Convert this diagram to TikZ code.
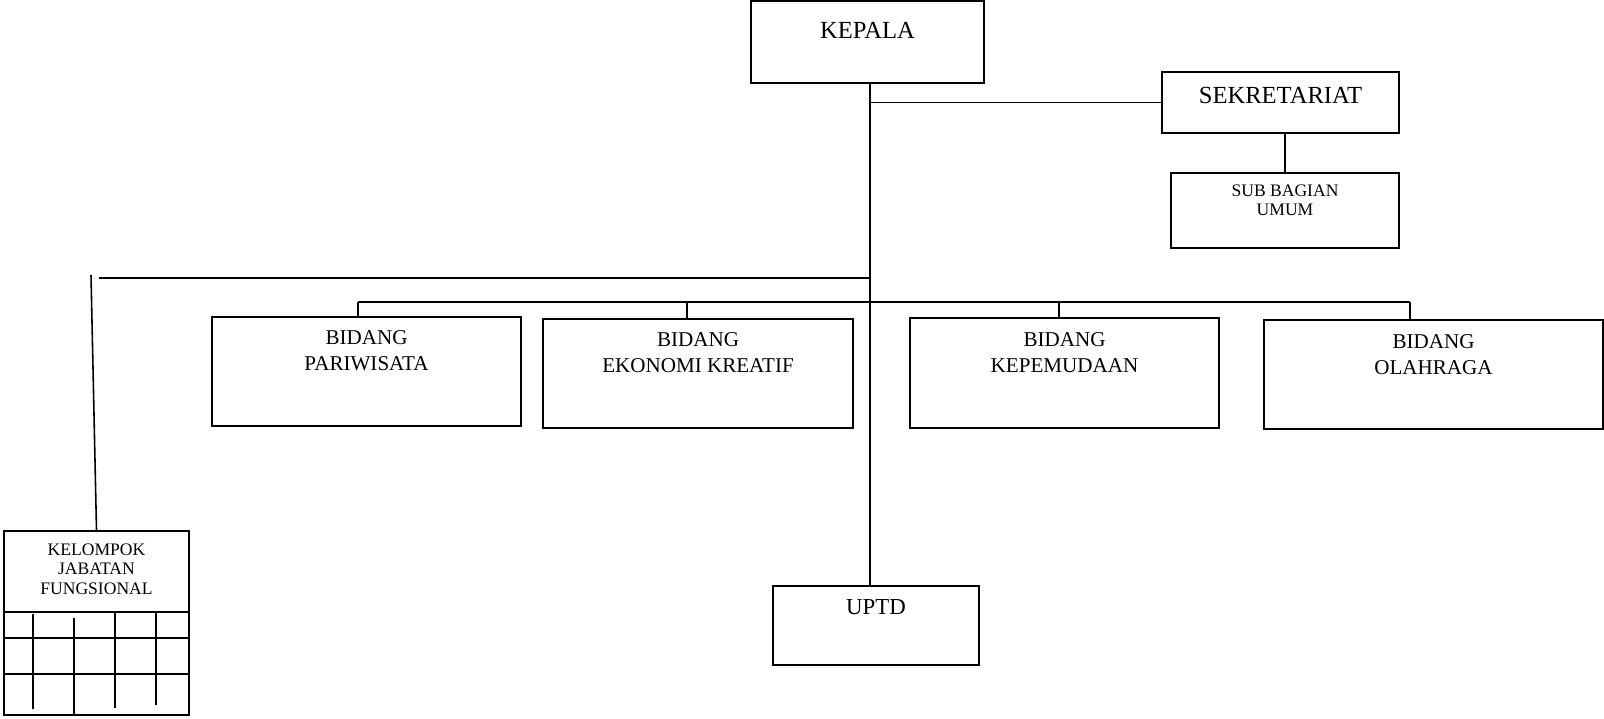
\documentclass[tikz,border=0pt]{standalone}
\usepackage{fontspec}
\setmainfont{Liberation Serif}
\usetikzlibrary{fit}

\begin{document}
\begin{tikzpicture}[x=0.02cm, y=-0.02cm, line width=0.9pt,
	box/.style={draw, inner sep=0pt},
	txt/.style={anchor=north, inner sep=0pt, align=center},
	big/.style={font=\fontsize{14}{16}\selectfont},
	mid/.style={font=\fontsize{12}{14.5}\selectfont},
	small/.style={font=\fontsize{10}{11}\selectfont}]
\useasboundingbox (0,0) rectangle (1604,719);

\node[box, fit={(751,1) (984,83)}, label={[txt, big, yshift=-0.42cm]north:KEPALA}] (kepala) {};

\node[box, fit={(1162,72) (1399,133)}, label={[txt, big, yshift=-0.30cm]north:SEKRETARIAT}] (sekre) {};
\node[box, fit={(1171,173) (1399,248)}, label={[txt, small, yshift=-0.24cm]north:SUB BAGIAN\\UMUM}] (subbag) {};

\node[box, fit={(212,317) (521,426)}, label={[txt, mid, yshift=-0.28cm]north:BIDANG\\PARIWISATA}] (bid1) {};
\node[box, fit={(543,319) (853,428)}, label={[txt, mid, yshift=-0.28cm]north:BIDANG\\EKONOMI KREATIF}] (bid2) {};
\node[box, fit={(910,318) (1219,428)}, label={[txt, mid, yshift=-0.30cm]north:BIDANG\\KEPEMUDAAN}] (bid3) {};
\node[box, fit={(1264,320) (1603,429)}, label={[txt, mid, yshift=-0.30cm]north:BIDANG\\OLAHRAGA}] (bid4) {};

\node[box, fit={(773,586) (979,665)}, label={[txt, font=\fontsize{13}{15}\selectfont, yshift=-0.28cm]north:UPTD}] (uptd) {};

\node[box, fit={(4,531) (189,715)}, label={[txt, small, yshift=-0.26cm]north:KELOMPOK\\JABATAN\\FUNGSIONAL}] (kjf) {};

\coordinate (spine) at (870,83);
\coordinate (d1) at (358,302);
\coordinate (d2) at (687,302);
\coordinate (d3) at (1059,302);
\coordinate (d4) at (1410,302);
\coordinate (kjfend) at (99,278);
\coordinate (kjftop) at (91,275);

\draw (spine) -- (spine |- uptd.north);
\draw (spine |- sekre.west) -- (sekre.west);
\draw (subbag.north) -- (subbag.north |- sekre.south);

\draw (d1) -- (d4);
\draw (d1) -- (d1 |- bid1.north);
\draw (d2) -- (d2 |- bid2.north);
\draw (d3) -- (d3 |- bid3.north);
\draw (d4) -- (d4 |- bid4.north);

\draw (spine |- kjfend) -- (kjfend);
\draw (kjftop) -- (kjf.north);

\foreach \y in {612,638,674}
	\draw (kjf.west |- 0,\y) -- (kjf.east |- 0,\y);
\foreach \x/\a/\b in {33/614/709, 74/618/715, 115/613/708, 156/613/705}
	\draw (\x,\a) -- (\x,\b);
\end{tikzpicture}
\end{document}
